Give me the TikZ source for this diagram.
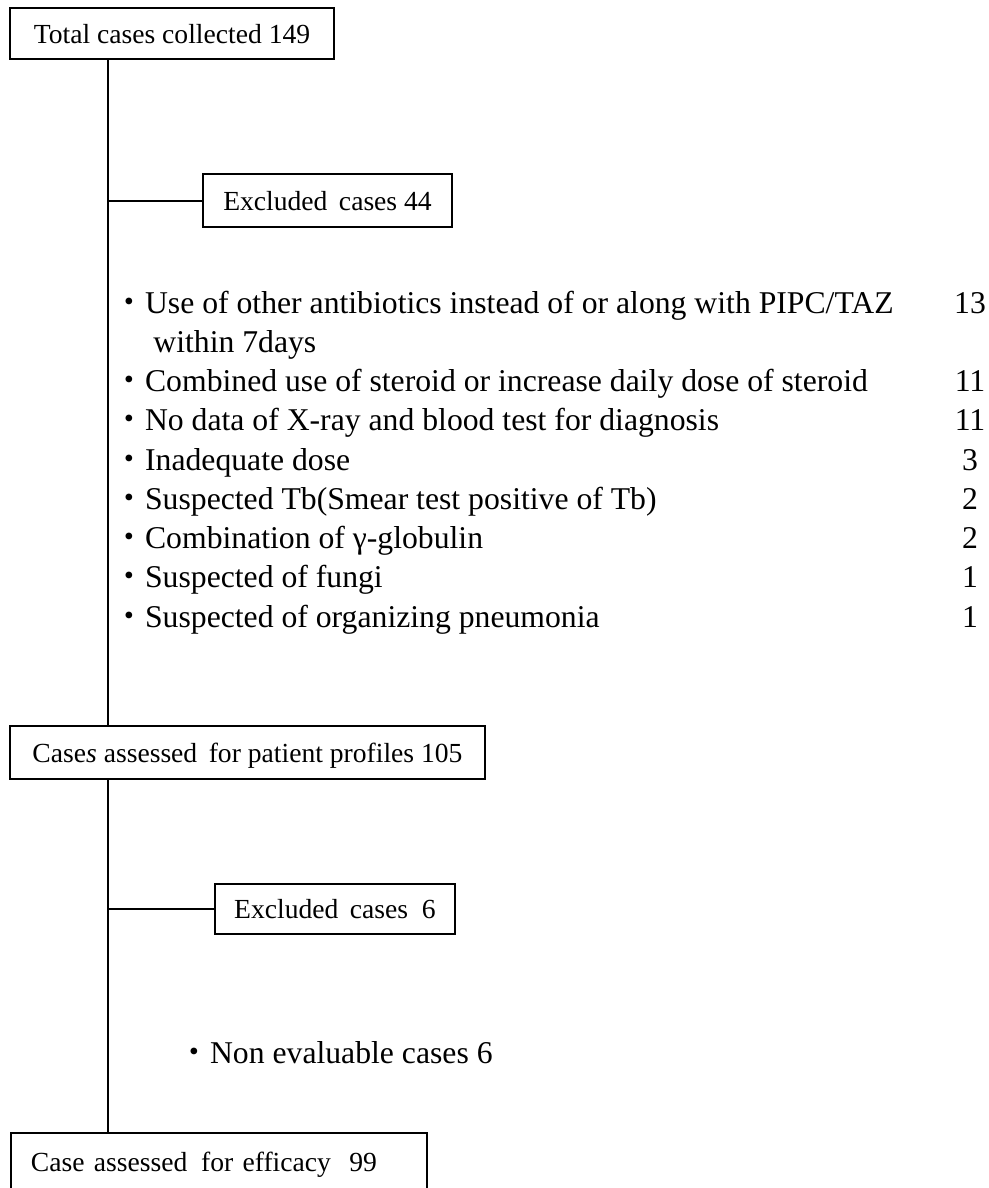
\documentclass[tikz,border=0pt]{standalone}
\usepackage{fontspec}
\setmainfont{Liberation Serif}
\newfontfamily\jpfont{Noto Sans CJK JP}
\newcommand{\dotmark}{{\jpfont ・}}

\begin{document}
\begin{tikzpicture}[
    x=0.5pt, y=-0.5pt,
    every node/.style={inner sep=0pt},
    flowbox/.style={
      rectangle, draw=black, line width=1pt, anchor=north west,
      text depth=0pt, font=\fontsize{13.8}{16}\selectfont
    },
    listitem/.style={anchor=base west, font=\fontsize{15.85}{19.6}\selectfont},
    listnum/.style={anchor=base, font=\fontsize{15.85}{19.6}\selectfont},
    link/.style={line width=1pt, black}
  ]
    \clip (0,0) rectangle (989,1188);

    % Main boxes
    \node[flowbox, minimum width=162pt, minimum height=25.5pt] (total) at (9,7) {Total cases collected 149};
    \node[flowbox, minimum width=237.5pt, minimum height=26.5pt] (profiles) at (9,725) {Case\textit{s} assessed\, for patient profiles 105};
    \node[flowbox, text width=188pt, align=left, inner xsep=10pt, inner ysep=9.5pt, text depth=10pt] (efficacy) at (10,1132) {Case assessed\, for efficacy\ \ 99};

    % Exclusion boxes
    \node[flowbox, minimum width=124.5pt, minimum height=26.5pt] (excl1) at (202,173) {Excluded\, cases 44};
    \node[flowbox, minimum width=120pt, minimum height=25pt] (excl2) at (214,883) {Excluded\, cases\ \ 6};

    % Reasons for exclusion
    \node[listitem] (r1) at (113,313) {\dotmark Use of other antibiotics instead of or along with PIPC/TAZ};
    \node[listitem] (r1b) at (153,352.25) {within 7days};
    \node[listitem] (r2) at (113,391.5) {\dotmark Combined use of steroid or increase daily dose of steroid};
    \node[listitem] (r3) at (113,430.75) {\dotmark No data of X-ray and blood test for diagnosis};
    \node[listitem] (r4) at (113,470) {\dotmark Inadequate dose};
    \node[listitem] (r5) at (113,509.25) {\dotmark Suspected Tb(Smear test positive of Tb)};
    \node[listitem] (r6) at (113,548.5) {\dotmark Combination of γ-globulin};
    \node[listitem] (r7) at (113,587.75) {\dotmark Suspected of fungi};
    \node[listitem] (r8) at (113,627) {\dotmark Suspected of organizing pneumonia};

    \node[listnum] (n1) at (970,313) {13};
    \node[listnum] (n2) at (970,391.5) {11};
    \node[listnum] (n3) at (970,430.75) {11};
    \node[listnum] (n4) at (970,470) {3};
    \node[listnum] (n5) at (970,509.25) {2};
    \node[listnum] (n6) at (970,548.5) {2};
    \node[listnum] (n7) at (970,587.75) {1};
    \node[listnum] (n8) at (970,627) {1};

    \node[listitem] (r9) at (178,1063) {\dotmark Non evaluable cases 6};

    % Flow lines
    \coordinate (spine) at (108,0);
    \draw[link] (total.south -| spine) -- (profiles.north -| spine);
    \draw[link] (excl1.west) -- (excl1.west -| spine);
    \draw[link] (profiles.south -| spine) -- (efficacy.north -| spine);
    \draw[link] (excl2.west) -- (excl2.west -| spine);

  \end{tikzpicture}
\end{document}
